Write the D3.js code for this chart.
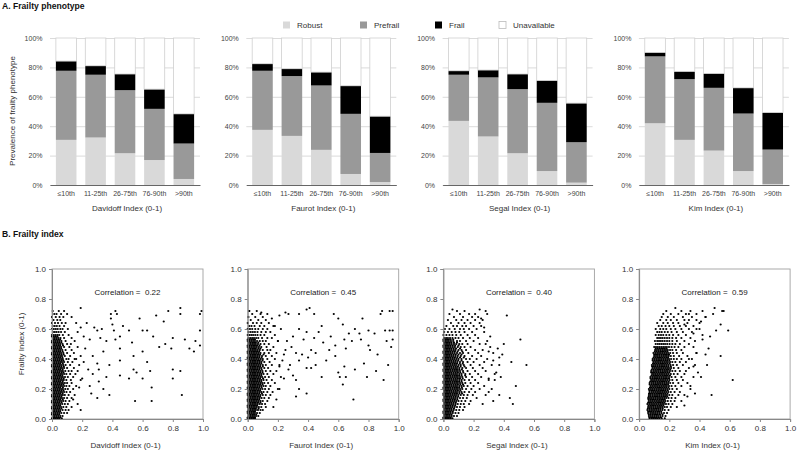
<!DOCTYPE html>
<html><head><meta charset="utf-8">
<script src="https://cdn.jsdelivr.net/npm/d3@7"></script>
<style>
body{margin:0;background:#fff}
svg{display:block;font-family:"Liberation Sans",Arial,Helvetica,sans-serif}
</style>
</head><body>
<svg id="c" width="800" height="453"></svg>
<script>
// ---------- DATA: Frailty phenotype (stacked %, segment sizes) ----------
const categories = ["≤10th", "11-25th", "26-75th", "76-90th", ">90th"];
const indexNames = ["Davidoff Index (0-1)", "Faurot Index (0-1)", "Segal Index (0-1)", "Kim Index (0-1)"];
const statusKeys = ["Robust", "Prefrail", "Frail", "Unavailable"];
const robust = [
  [30.7, 32.3, 21.6, 17.0, 4.1],
  [37.5, 33.4, 23.9, 7.5, 2.0],
  [43.6, 33.0, 21.6, 9.5, 1.6],
  [42.0, 30.7, 23.4, 9.5, 0.7]
];
const prefrail = [
  [47.0, 42.7, 42.9, 34.8, 24.1],
  [40.2, 40.7, 43.8, 40.9, 19.8],
  [31.4, 40.2, 43.6, 46.4, 27.5],
  [45.5, 41.3, 42.7, 39.1, 23.4]
];
const frail = [
  [6.6, 6.1, 11.0, 13.4, 20.2],
  [4.8, 5.0, 9.1, 19.1, 25.0],
  [2.7, 5.0, 10.3, 15.2, 26.6],
  [2.7, 5.3, 9.8, 17.5, 25.2]
];
const pctTicks = [0, 20, 40, 60, 80, 100];

// ---------- DATA: Frailty index scatter (values in hundredths) ----------
// rows: "y: x x x ..." ; outliers: "x,y"
const correlations = [0.22, 0.45, 0.40, 0.59];
const indexTicks = [0, 0.2, 0.4, 0.6, 0.8, 1.0];

const davidoffRows = `72: 0.5 4.5
70: 1.5 3 6
68: 0 2.5 5 7.5
66: 1 3.5 5.5
64: 0 2 4 6.5 9
62: 0.5 1.8 3.2 5 8
60: 0 1.2 2.5 3.8 5.5 7 10.5
58: 0.6 1.8 3 4.4 6 8.5
56: 0 1.2 2.4 3.6 4.8 7.2 11
54: 0.6 1.8 3 4.2 5.6 8 13
52: 0 1.2 2.4 3.6 4.8 6.2 9 15
50: 0.6 1.8 3 4.2 5.4 7 10 12.5
48: 0 1.2 2.4 3.6 4.8 6 8 11.5 17
46: 0.6 1.8 3 4.2 5.4 6.8 9 13
44: 0 1.2 2.4 3.6 4.8 6 7.5 10 14.5
42: 0.6 1.8 3 4.2 5.4 6.6 8.5 12 19
40: 0 1.2 2.4 3.6 4.8 6 7.2 9.5 11 16
38: 0.6 1.8 3 4.2 5.4 6.6 8 10.5 13.5
36: 0 1.2 2.4 3.6 4.8 6 7.4 9 12 18
34: 0.6 1.8 3 4.2 5.4 6.6 8 10 14.5
32: 0 1.2 2.4 3.6 4.8 6 7.2 8.8 11 13 17
30: 0.6 1.8 3 4.2 5.4 6.6 8 9.5 12 15.5
28: 0 1.2 2.4 3.6 4.8 6 7.2 8.6 10.5 14
26: 0.6 1.8 3 4.2 5.4 6.6 7.8 9.5 12.5 19
24: 0 1.2 2.4 3.6 4.8 6 7.2 8.5 10 13
22: 0.6 1.8 3 4.2 5.4 6.6 8 9.5 11.5 16
20: 0 1.2 2.4 3.6 4.8 6 7.2 8.8 10.5 14
18: 0.6 1.8 3 4.2 5.4 6.6 8 9.6 12
16: 0 1.2 2.4 3.6 4.8 6 7.2 8.5 11 15
14: 0.6 1.8 3 4.2 5.4 6.6 8 10 13
12: 0 1.2 2.4 3.6 4.8 6 7.4 9 11.5
10: 0.6 1.8 3 4.2 5.4 6.8 8.5 10.5
8: 0 1.2 2.4 3.6 4.8 6 7.5 9.5 13
6: 0.6 1.8 3 4.2 5.4 7 9 11
4: 0 1.2 2.4 3.6 4.8 6.2 8 10
2: 0.6 1.8 3 4.2 5.5 7
0.5: 0 1.2 2.4 3.6 4.8 6.5
55: 0 1.2 2.4 3.6
53: 0.6 1.8 3 4.2 5.4
51: 0 1.2 2.4 3.6 4.8 6.2
49: 0.6 1.8 3 4.2 5.4 7.3
47: 0 1.2 2.4 3.6 4.8 6.1
45: 0.6 1.8 3 4.2 5.4 7
43: 0 1.2 2.4 3.6 4.8 6.2 7.7
41: 0.6 1.8 3 4.2 5.4 6.9
39: 0 1.2 2.4 3.6 4.8 6.2 7.5
37: 0.6 1.8 3 4.2 5.4 7.1
35: 0 1.2 2.4 3.6 4.8 6.2 7.8
33: 0.6 1.8 3 4.2 5.4 7
31: 0 1.2 2.4 3.6 4.8 6.3 7.6
29: 0.6 1.8 3 4.2 5.4 6.8
27: 0 1.2 2.4 3.6 4.8 6.2 7.7
25: 0.6 1.8 3 4.2 5.4 7
23: 0 1.2 2.4 3.6 4.8 6.1 7.5
21: 0.6 1.8 3 4.2 5.4 7.2
19: 0 1.2 2.4 3.6 4.8 6.2 7.6
17: 0.6 1.8 3 4.2 5.4 7
15: 0 1.2 2.4 3.6 4.8 6.2
13: 0.6 1.8 3 4.2 5.4 7.1
11: 0 1.2 2.4 3.6 4.8 6.3
9: 0.6 1.8 3 4.2 5.4
7: 0 1.2 2.4 3.6 4.8 6.2
5: 0.6 1.8 3 4.2 5.4
3: 0 1.2 2.4 3.6 4.8
1: 0.6 1.8 3 4.2 5.4`;
const davidoffOut = "19,74 42,72 39,70 43,70 85,74 85,70 77,72 99,72 98,70 58,67 69,69 74,65 23,64 19,61 30,59 33,60 39,67 40,63 41,59 51,59 60,59 63,59 98,59 80,54 88,53 95,52 98,49 91,47 79,47 71,48 75,50 21,55 25,53 32,54 36,52 42,53 53,51 60,45 45,47 34,45 54,42 63,38 27,42 30,37 38,36 45,39 54,33 56,31 65,32 80,33 85,32 80,27 60,27 45,29 51,27 31,33 27,30 36,28 31,25 25,22 34,20 38,16 30,14 86,16 66,12 55,12 19,6 14,13 22,47 17,58 20,27 24,33 17,10 15,40 21,38 18,21 26,17 16,64 13,68 8,72 10,70 28,61 47,62 67,55 45,55 66,21 94,45";

const faurotRows = `72: 1 6
70: 3 8.5
68: 0.5 5 10
66: 2 7 12
64: 0 3.5 6 9 14
62: 1 2.5 4.5 8 11 17
60: 0 1.5 3 5 7 10 13
58: 0.6 2 3.4 4.8 6.5 9 12 15
56: 0 1.2 2.4 3.6 5 6.5 8.5 11 18
54: 0.6 1.8 3 4.2 5.6 7 9.5 13 16
52: 0 1.2 2.4 3.6 4.8 6.2 8 10 12 20
50: 0.6 1.8 3 4.2 5.4 6.8 8.5 11 14
48: 0 1.2 2.4 3.6 4.8 6 7.4 9 12.5 17
46: 0.6 1.8 3 4.2 5.4 6.6 8 10 13 15
44: 0 1.2 2.4 3.6 4.8 6 7.2 8.5 11 14 19
42: 0.6 1.8 3 4.2 5.4 6.6 7.8 9.5 12 16
40: 0 1.2 2.4 3.6 4.8 6 7.2 8.6 10 13 18
38: 0.6 1.8 3 4.2 5.4 6.6 7.8 9 11 14.5
36: 0 1.2 2.4 3.6 4.8 6 7.2 8.4 10 12 16 21
34: 0.6 1.8 3 4.2 5.4 6.6 7.8 9 11 13.5
32: 0 1.2 2.4 3.6 4.8 6 7.2 8.4 9.8 12 15 19
30: 0.6 1.8 3 4.2 5.4 6.6 7.8 9 10.5 13 17
28: 0 1.2 2.4 3.6 4.8 6 7.2 8.4 9.6 11.5 14 22
26: 0.6 1.8 3 4.2 5.4 6.6 7.8 9 10.5 12.5 16
24: 0 1.2 2.4 3.6 4.8 6 7.2 8.4 9.6 11 13.5 18
22: 0.6 1.8 3 4.2 5.4 6.6 7.8 9 10.5 12 15
20: 0 1.2 2.4 3.6 4.8 6 7.2 8.4 9.8 11.5 14 20
18: 0.6 1.8 3 4.2 5.4 6.6 7.8 9 10.5 13 16.5
16: 0 1.2 2.4 3.6 4.8 6 7.2 8.4 10 12 15
14: 0.6 1.8 3 4.2 5.4 6.6 7.8 9.2 11 14
12: 0 1.2 2.4 3.6 4.8 6 7.2 8.5 10 13
10: 0.6 1.8 3 4.2 5.4 6.6 8 9.5 11.5
8: 0 1.2 2.4 3.6 4.8 6 7.4 9 12
6: 0.6 1.8 3 4.2 5.4 6.8 8.5 10
4: 0 1.2 2.4 3.6 4.8 6.2 8
2: 0.6 1.8 3 4.2 5.5 7
0.5: 0 1.2 2.4 3.6 4.8
53: 0 1.2 2.4 3.6 4.8
51: 0.6 1.8 3 4.2 5.4 7
49: 0 1.2 2.4 3.6 4.8 6.2 7.8
47: 0.6 1.8 3 4.2 5.4 7 8.4
45: 0 1.2 2.4 3.6 4.8 6.2 7.6
43: 0.6 1.8 3 4.2 5.4 6.8 8.2 10.5
41: 0 1.2 2.4 3.6 4.8 6.2 7.6 9.2
39: 0.6 1.8 3 4.2 5.4 6.8 8 9.8
37: 0 1.2 2.4 3.6 4.8 6.2 7.6 9
35: 0.6 1.8 3 4.2 5.4 6.8 8.2 10
33: 0 1.2 2.4 3.6 4.8 6.2 7.6 9.2
31: 0.6 1.8 3 4.2 5.4 6.8 8.2 9.8
29: 0 1.2 2.4 3.6 4.8 6.2 7.6 9
27: 0.6 1.8 3 4.2 5.4 6.8 8.2 10.2
25: 0 1.2 2.4 3.6 4.8 6.2 7.6 9
23: 0.6 1.8 3 4.2 5.4 6.8 8.2 9.8
21: 0 1.2 2.4 3.6 4.8 6.2 7.6 9.2
19: 0.6 1.8 3 4.2 5.4 6.8 8.2
17: 0 1.2 2.4 3.6 4.8 6.2 7.6 9.4
15: 0.6 1.8 3 4.2 5.4 6.8 8.2
13: 0 1.2 2.4 3.6 4.8 6.2 7.6
11: 0.6 1.8 3 4.2 5.4 6.8 8.4
9: 0 1.2 2.4 3.6 4.8 6.2
7: 0.6 1.8 3 4.2 5.4 7.2
5: 0 1.2 2.4 3.6 4.8
3: 0.6 1.8 3 4.2 5.6
1: 0 1.2 2.4 3.6 4.8`;
const faurotOut = "1,72 21,69 25,71 27,70 34,70 39,73 41,74 44,70 57,70 60,67 63,63 76,67 88,70 89,72 94,72 96,72 91,59 94,59 96,59 80,59 74,57 67,57 64,53 69,52 75,53 84,57 92,52 96,53 95,48 80,49 81,46 77,37 85,32 90,26 93,36 79,28 71,33 65,28 64,35 61,28 63,23 70,13 54,46 50,51 58,42 52,39 45,36 49,28 42,34 39,34 34,39 32,44 37,53 39,58 34,60 30,55 44,54 42,46 25,46 23,39 27,33 32,26 34,20 39,17 32,15 21,20 19,13 17,8 22,60 18,62 24,43 26,52 29,48 28,36 36,43 47,58 55,55 58,49 49,62 30,29 24,27 21,35 20,52 16,67 13,70 9,71 45,44 40,41 65,47 71,60 86,43 60,31";

const segalRows = `73: 6 24
72: 9 14 28
70: 4 11 17 21
68: 7 13 19 23
66: 3 8.5 12 16 21 26
64: 5 10 14 18 24
62: 2 6.5 9 12.5 15 20 25
60: 1 4 7.5 11 13.5 17 22
58: 0.5 3 5.5 8 10.5 14 19 27
56: 0 2 4 6 8.5 11.5 16 21
54: 0.6 1.8 3 4.4 6 8 10 13 17.5 23
52: 0 1.2 2.4 3.6 5 6.5 9 11 15 20 29
50: 0.6 1.8 3 4.2 5.5 7 8.5 10.5 12.5 16 24
48: 0 1.2 2.4 3.6 4.8 6.2 7.6 9.5 11.5 14 18 31
46: 0.6 1.8 3 4.2 5.4 6.8 8 10 12 15 21 26
44: 0 1.2 2.4 3.6 4.8 6 7.4 9 11 13 16.5 23 33
42: 0.6 1.8 3 4.2 5.4 6.6 8 9.5 11.5 14 19 25
40: 0 1.2 2.4 3.6 4.8 6 7.2 8.6 10 12 15 17.5 22 29
38: 0.6 1.8 3 4.2 5.4 6.6 7.8 9.2 11 13 16 20 27
36: 0 1.2 2.4 3.6 4.8 6 7.2 8.4 10 11.5 13.5 18 24 32
34: 0.6 1.8 3 4.2 5.4 6.6 7.8 9 10.5 12.5 15 19.5 26
32: 0 1.2 2.4 3.6 4.8 6 7.2 8.4 9.6 11 13 16 21 28
30: 0.6 1.8 3 4.2 5.4 6.6 7.8 9 10.5 12 14.5 17.5 23 34
28: 0 1.2 2.4 3.6 4.8 6 7.2 8.4 9.6 11 12.5 15 19 25
26: 0.6 1.8 3 4.2 5.4 6.6 7.8 9 10.5 12 14 17 21 30
24: 0 1.2 2.4 3.6 4.8 6 7.2 8.4 9.6 11 12.5 14.5 18 23
22: 0.6 1.8 3 4.2 5.4 6.6 7.8 9 10.5 12 13.5 16 20 27
20: 0 1.2 2.4 3.6 4.8 6 7.2 8.4 9.6 11 12.5 15 18.5 24
18: 0.6 1.8 3 4.2 5.4 6.6 7.8 9 10.5 12 14 17 21
16: 0 1.2 2.4 3.6 4.8 6 7.2 8.4 9.8 11.5 13.5 16 19.5 28
14: 0.6 1.8 3 4.2 5.4 6.6 7.8 9.2 11 13 15.5 22
12: 0 1.2 2.4 3.6 4.8 6 7.2 8.5 10 12 14.5 18
10: 0.6 1.8 3 4.2 5.4 6.6 8 9.5 11.5 13.5 17
8: 0 1.2 2.4 3.6 4.8 6 7.4 9 11 14
6: 0.6 1.8 3 4.2 5.4 6.8 8.5 10.5 13
4: 0 1.2 2.4 3.6 4.8 6.2 8 10
2: 0.6 1.8 3 4.2 5.5 7 9
0.5: 0 1.2 2.4 3.6 4.8 6
53: 0 1.2 2.4 3.6 4.8 6.5
51: 0.6 1.8 3 4.2 5.4 7 9
49: 0 1.2 2.4 3.6 4.8 6.2 7.8 10
47: 0.6 1.8 3 4.2 5.4 6.8 8.4 11
45: 0 1.2 2.4 3.6 4.8 6.2 7.6 9.4 12.5
43: 0.6 1.8 3 4.2 5.4 6.8 8.2 10 12
41: 0 1.2 2.4 3.6 4.8 6.2 7.6 9.2 11 13.5
39: 0.6 1.8 3 4.2 5.4 6.8 8.2 9.8 12
37: 0 1.2 2.4 3.6 4.8 6.2 7.6 9 10.8 12.8
35: 0.6 1.8 3 4.2 5.4 6.8 8.2 9.6 11.4 14
33: 0 1.2 2.4 3.6 4.8 6.2 7.6 9 10.5 12.2
31: 0.6 1.8 3 4.2 5.4 6.8 8.2 9.6 11.2 13.2
29: 0 1.2 2.4 3.6 4.8 6.2 7.6 9 10.4 12 14.4
27: 0.6 1.8 3 4.2 5.4 6.8 8.2 9.6 11 12.8
25: 0 1.2 2.4 3.6 4.8 6.2 7.6 9 10.4 12
23: 0.6 1.8 3 4.2 5.4 6.8 8.2 9.6 11.2 13
21: 0 1.2 2.4 3.6 4.8 6.2 7.6 9 10.4 12.2
19: 0.6 1.8 3 4.2 5.4 6.8 8.2 9.6 11.2
17: 0 1.2 2.4 3.6 4.8 6.2 7.6 9 10.6 12.4
15: 0.6 1.8 3 4.2 5.4 6.8 8.2 9.8
13: 0 1.2 2.4 3.6 4.8 6.2 7.6 9.2
11: 0.6 1.8 3 4.2 5.4 6.8 8.2
9: 0 1.2 2.4 3.6 4.8 6.2 7.8
7: 0.6 1.8 3 4.2 5.4 7
5: 0 1.2 2.4 3.6 4.8 6.2
3: 0.6 1.8 3 4.2 5.4
1: 0 1.2 2.4 3.6 4.8`;
const segalOut = "42,69 51,53 55,36 45,38 48,22 44,14 46,10 39,43 37,41 37,36 35,31 37,16 32,20 40,50 36,47 33,39 30,45 28,50 31,55 27,61 29,70 25,67 30,27 33,12 26,10 30,18 34,26 38,28";

const kimRows = `74: 24 50
72: 18 28 34 42 55
70: 16 21 26 31 38
68: 15 19 23 29 35 44
66: 14 18 21 25 30 33
64: 12 16 19 22.5 26 32 40
62: 13 15 17.5 20 23 27 31 36
60: 11 14 16 18 21 24 28 33 38
58: 12 13.5 15 17 19 21.5 25 29 35
56: 11 13 14.5 16 18 20 22.5 26 31 42
54: 12 13.2 14.4 15.6 17 18.5 20 22 24.5 28 34
52: 10.5 12 13.2 14.4 15.6 17 18.5 20 22 25 30 37
50: 11 12.4 13.6 14.8 16 17.2 18.6 20.2 22 24 27 33
48: 10 11.2 12.4 13.6 14.8 16 17.2 18.4 19.8 21.5 23.5 26 30 36
46: 10.6 11.8 13 14.2 15.4 16.6 17.8 19 20.5 22 24.5 28
44: 9.5 10.8 12 13.2 14.4 15.6 16.8 18 19.2 20.6 22.5 25 29 38
42: 10 11.2 12.4 13.6 14.8 16 17.2 18.4 19.6 21 23 26.5 32
40: 9 10.2 11.4 12.6 13.8 15 16.2 17.4 18.6 19.8 21.2 23 25 28 35
38: 9.5 10.7 11.9 13.1 14.3 15.5 16.7 17.9 19.1 20.5 22 24 27 31
36: 8.5 9.8 11 12.2 13.4 14.6 15.8 17 18.2 19.4 20.8 22.5 25 29 37
34: 9 10.2 11.4 12.6 13.8 15 16.2 17.4 18.6 19.8 21.2 23 26 33
32: 8 9.4 10.6 11.8 13 14.2 15.4 16.6 17.8 19 20.4 22 24 27 31
30: 8.6 9.8 11 12.2 13.4 14.6 15.8 17 18.2 19.4 21 23 25.5 30
28: 7.5 8.8 10 11.2 12.4 13.6 14.8 16 17.2 18.4 19.8 21.5 24 28 36
26: 8 9.2 10.4 11.6 12.8 14 15.2 16.4 17.6 18.8 20.2 22 25 29
24: 7 8.4 9.6 10.8 12 13.2 14.4 15.6 16.8 18 19.2 20.6 22.5 26 32
22: 7.6 8.8 10 11.2 12.4 13.6 14.8 16 17.2 18.4 19.8 21.5 24 28
20: 6.5 7.8 9 10.2 11.4 12.6 13.8 15 16.2 17.4 18.6 20 22 25 34
18: 7 8.4 9.6 10.8 12 13.2 14.4 15.6 16.8 18 19.4 21 23.5 27
16: 6.5 7.6 8.8 10 11.2 12.4 13.6 14.8 16 17.2 18.4 20 22 26 30
14: 6 7.2 8.4 9.6 10.8 12 13.2 14.4 15.6 16.8 18 19.5 21.5 24
12: 6.5 7.8 9 10.2 11.4 12.6 13.8 15 16.2 17.4 19 21 23.5 28
10: 5.5 6.8 8 9.2 10.4 11.6 12.8 14 15.2 16.4 17.8 19.5 22
8: 6 7.2 8.4 9.6 10.8 12 13.2 14.4 15.6 17 18.5 21 25
6: 5.5 6.8 8 9.2 10.4 11.6 12.8 14 15.4 17 19.5
4: 6 7.4 8.6 9.8 11 12.2 13.4 14.8 16.5 18.5
2: 6.5 7.8 9 10.2 11.4 12.6 14 15.5 17.5
0.5: 7 8.4 9.6 10.8 12 13.4 15 17
47: 11 12.2 13.4 14.6 15.8 17 18.2
45: 10.4 11.6 12.8 14 15.2 16.4 17.6 18.8
43: 10 11.2 12.4 13.6 14.8 16 17.2 18.4 19.8
41: 9.6 10.8 12 13.2 14.4 15.6 16.8 18 19.2
39: 9 10.2 11.4 12.6 13.8 15 16.2 17.4 18.6 20
37: 9.2 10.4 11.6 12.8 14 15.2 16.4 17.6 18.8 20.2
35: 8.6 9.8 11 12.2 13.4 14.6 15.8 17 18.2 19.4 21
33: 8.4 9.6 10.8 12 13.2 14.4 15.6 16.8 18 19.2 20.6
31: 8 9.2 10.4 11.6 12.8 14 15.2 16.4 17.6 18.8 20
29: 8.2 9.4 10.6 11.8 13 14.2 15.4 16.6 17.8 19 20.4
27: 7.6 8.8 10 11.2 12.4 13.6 14.8 16 17.2 18.4 19.8
25: 7.4 8.6 9.8 11 12.2 13.4 14.6 15.8 17 18.2 19.6
23: 7 8.2 9.4 10.6 11.8 13 14.2 15.4 16.6 17.8 19.2
21: 7.2 8.4 9.6 10.8 12 13.2 14.4 15.6 16.8 18 19.4
19: 6.8 8 9.2 10.4 11.6 12.8 14 15.2 16.4 17.6 19
17: 6.6 7.8 9 10.2 11.4 12.6 13.8 15 16.2 17.4 18.8
15: 6.4 7.6 8.8 10 11.2 12.4 13.6 14.8 16 17.2 18.6
13: 6.2 7.4 8.6 9.8 11 12.2 13.4 14.6 15.8 17
11: 6 7.2 8.4 9.6 10.8 12 13.2 14.4 15.6 16.8
9: 6.2 7.4 8.6 9.8 11 12.2 13.4 14.6 16
7: 5.8 7 8.2 9.4 10.6 11.8 13 14.2 15.6
5: 6 7.2 8.4 9.6 10.8 12 13.2 14.6
3: 6.4 7.6 8.8 10 11.2 12.4 13.8 15.5
1: 6.8 8 9.2 10.4 11.6 13 14.5`;
const kimOut = "62,26 48,16 54,42 59,59 54,63 51,59 56,72 44,68 45,36 46,47 41,28 37,17 42,53 40,60 36,57 47,55 38,44 44,43 36,35 39,31 34,22 32,15 30,9 33,40 41,65 49,70 30,63 38,66 33,70";

const scatterRows = [davidoffRows, faurotRows, segalRows, kimRows];
const scatterOut = [davidoffOut, faurotOut, segalOut, kimOut];

// ---------- helpers ----------
function parsePoints(rows, out) {
  const pts = [];
  rows.trim().split("\n").forEach(line => {
    const [yS, xs] = line.split(":");
    const y = +yS;
    xs.trim().split(/\s+/).forEach(x => pts.push([+x / 100, y / 100]));
  });
  out.trim().split(/\s+/).forEach(p => {
    const [x, y] = p.split(",");
    pts.push([+x / 100, +y / 100]);
  });
  return pts;
}

// ---------- drawing ----------
const svg = d3.select("#c");
const colors = { Robust: "#d9d9d9", Prefrail: "#999999", Frail: "#000000", Unavailable: "#ffffff" };
const FONT = "'Liberation Sans', Arial, Helvetica, sans-serif";

// Section titles
svg.append("text").attr("x", 2).attr("y", 9).attr("font-size", 8.6).attr("font-weight", "bold")
  .attr("fill", "#111").text("A. Frailty phenotype");
svg.append("text").attr("x", 2).attr("y", 236.5).attr("font-size", 8.6).attr("font-weight", "bold")
  .attr("fill", "#111").text("B. Frailty index");

// Legend
const legendX = [283, 360, 435, 499];
const legend = svg.append("g");
statusKeys.forEach((k, i) => {
  legend.append("rect").attr("x", legendX[i]).attr("y", 21.5).attr("width", 7).attr("height", 7)
    .attr("fill", colors[k]).attr("stroke", k === "Unavailable" ? "#bbb" : "none").attr("stroke-width", 0.8);
  legend.append("text").attr("x", legendX[i] + 14).attr("y", 28).attr("font-size", 8)
    .attr("fill", "#333").text(k);
});

// Bar panels
const yB = d3.scaleLinear().domain([0, 100]).range([185, 38]);
indexNames.forEach((name, i) => {
  const L = 50 + i * 196.3, W = 150;
  const g = svg.append("g");
  const x = d3.scaleBand().domain(categories).range([L, L + W]).paddingInner(0.3).paddingOuter(0.2);

  const yAx = g.append("g").attr("transform", `translate(${L},0)`)
    .call(d3.axisLeft(yB).tickValues(pctTicks).tickSize(-W).tickPadding(7.5).tickFormat(d => d + "%"));
  yAx.select(".domain").remove();
  yAx.selectAll(".tick line").attr("stroke", "#d2d2d2").attr("stroke-width", 0.8);
  yAx.selectAll(".tick text").attr("font-size", 7).attr("fill", "#444").attr("font-family", FONT);

  const rows = categories.map((c, j) => ({
    cat: c, Robust: robust[i][j], Prefrail: prefrail[i][j], Frail: frail[i][j],
    Unavailable: Math.max(0, 100 - robust[i][j] - prefrail[i][j] - frail[i][j])
  }));
  const series = d3.stack().keys(statusKeys)(rows);
  g.selectAll("g.s").data(series).join("g").attr("class", "s")
    .attr("fill", d => colors[d.key])
    .attr("stroke", d => d.key === "Unavailable" ? "#cfcfcf" : "none")
    .attr("stroke-width", 0.8)
    .selectAll("rect").data(d => d).join("rect")
    .attr("x", d => x(d.data.cat)).attr("width", x.bandwidth())
    .attr("y", d => yB(d[1])).attr("height", d => yB(d[0]) - yB(d[1]));

  const xAx = g.append("g").attr("transform", `translate(0,185)`)
    .call(d3.axisBottom(x).tickSize(0).tickSizeOuter(0).tickPadding(6.5));
  xAx.select(".domain").attr("stroke", "#666").attr("stroke-width", 1);
  xAx.selectAll(".tick text").attr("font-size", 7).attr("fill", "#444").attr("font-family", FONT);

  g.append("text").attr("x", L + W / 2 + 2).attr("y", 211).attr("text-anchor", "middle")
    .attr("font-size", 8).attr("fill", "#333").text(name);
});
svg.append("text").attr("transform", "translate(14.5,111) rotate(-90)").attr("text-anchor", "middle")
  .attr("font-size", 8).attr("fill", "#333").text("Prevalence of frailty phenotype");

// Scatter panels
const yS = d3.scaleLinear().domain([0, 1]).range([419, 269]);
indexNames.forEach((name, i) => {
  const X0 = 52 + i * 195.7, W = 151;
  const xS = d3.scaleLinear().domain([0, 1]).range([X0, X0 + W]);
  const g = svg.append("g");
  const pts = parsePoints(scatterRows[i], scatterOut[i]);

  g.append("rect").attr("x", X0).attr("y", 269).attr("width", W).attr("height", 150)
    .attr("fill", "none").attr("stroke", "#a0a0a0").attr("stroke-width", 0.9);

  g.selectAll("circle").data(pts).join("circle")
    .attr("cx", d => xS(d[0])).attr("cy", d => yS(d[1])).attr("r", 1.1).attr("fill", "#000");

  const ax = g.append("g").attr("transform", `translate(${X0},0)`)
    .call(d3.axisLeft(yS).tickValues(indexTicks).tickFormat(d3.format(".1f")).tickSize(3).tickPadding(3));
  const bx = g.append("g").attr("transform", `translate(0,419)`)
    .call(d3.axisBottom(xS).tickValues(indexTicks).tickFormat(d3.format(".1f")).tickSize(3).tickPadding(3));
  [ax, bx].forEach(a => {
    a.select(".domain").attr("stroke", "#888");
    a.selectAll(".tick line").attr("stroke", "#888");
    a.selectAll(".tick text").attr("font-size", 8).attr("fill", "#333").attr("font-family", FONT);
  });

  g.append("text").attr("x", X0 + W / 2).attr("y", 294.5).attr("text-anchor", "middle")
    .attr("font-size", 8).attr("fill", "#222").style("white-space", "pre")
    .text("Correlation =  " + correlations[i].toFixed(2));
  g.append("text").attr("x", X0 + W / 2 - 2).attr("y", 448).attr("text-anchor", "middle")
    .attr("font-size", 8).attr("fill", "#333").text(name);
});
svg.append("text").attr("transform", "translate(24,344) rotate(-90)").attr("text-anchor", "middle")
  .attr("font-size", 8).attr("fill", "#333").text("Frailty Index (0-1)");
</script>
</body></html>
